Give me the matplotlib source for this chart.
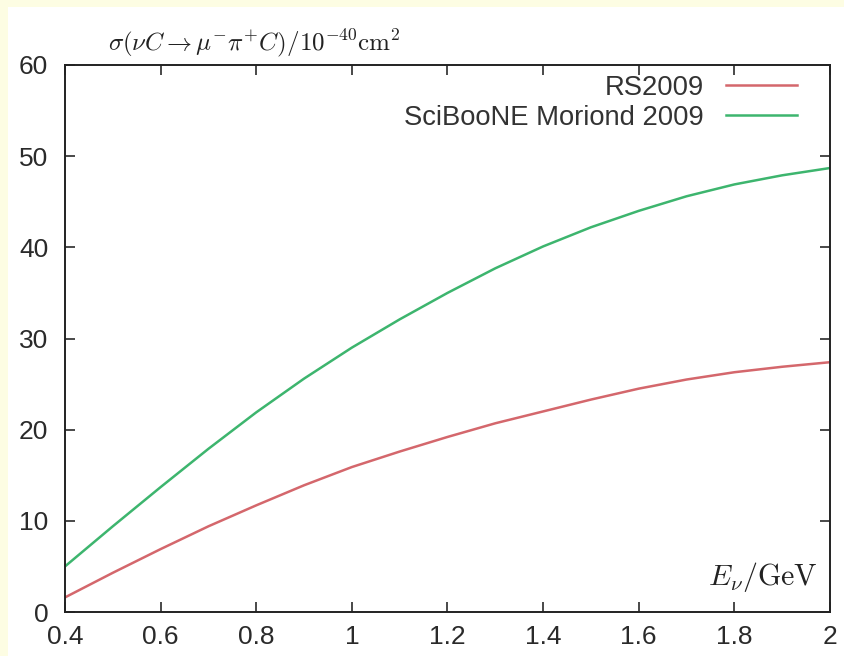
import numpy as np
import matplotlib
matplotlib.use('Agg')
import matplotlib.pyplot as plt
from matplotlib.patches import Rectangle

plt.rcParams['font.family'] = ['Liberation Sans', 'DejaVu Sans']
plt.rcParams['mathtext.fontset'] = 'cm'

# --- cross section vs neutrino energy (units of 1e-40 cm^2) ---
E_nu = [0.4, 0.5, 0.6, 0.7, 0.8, 0.9, 1.0, 1.1, 1.2,
        1.3, 1.4, 1.5, 1.6, 1.7, 1.8, 1.9, 2.0]
sigma_rs2009 = [1.6, 4.3, 6.9, 9.4, 11.7, 13.9, 15.9, 17.6, 19.2,
                20.7, 22.0, 23.3, 24.5, 25.5, 26.3, 26.9, 27.4]
sigma_sciboone = [5.0, 9.4, 13.7, 17.9, 21.9, 25.6, 29.0, 32.1, 35.0,
                  37.7, 40.1, 42.2, 44.0, 45.6, 46.9, 47.9, 48.7]

xticks = [0.4, 0.6, 0.8, 1.0, 1.2, 1.4, 1.6, 1.8, 2.0]
xticklabels = ['0.4', '0.6', '0.8', '1', '1.2', '1.4', '1.6', '1.8', '2']
yticks = [0, 10, 20, 30, 40, 50, 60]

fig = plt.figure(figsize=(8.45, 6.56), dpi=100)
fig.patch.set_facecolor('white')

# pale yellow frame strips along top and left edge
fig.patches.append(Rectangle((0, 0), 8 / 845, 1, transform=fig.transFigure,
                             facecolor='#fdfde3', edgecolor='none', zorder=0))
fig.patches.append(Rectangle((0, 1 - 7 / 656), 1, 7 / 656, transform=fig.transFigure,
                             facecolor='#fdfde3', edgecolor='none', zorder=0))

ax = fig.add_axes([65 / 845, 44 / 656, 765 / 845, 547 / 656])
ax.plot(E_nu, sigma_rs2009, color='#d4676c', lw=1.8, label='RS2009')
ax.plot(E_nu, sigma_sciboone, color='#3db56e', lw=1.8, label='SciBooNE Moriond 2009')

ax.set_xlim(0.4, 2.0)
ax.set_ylim(0, 60)
ax.set_xticks(xticks)
ax.set_xticklabels(xticklabels)
ax.set_yticks(yticks)
ax.tick_params(direction='in', length=7, width=1.2, top=True, right=True,
               labelsize=19, colors='#2a2a2a')
ax.tick_params(axis='x', pad=9)
ax.tick_params(axis='y', pad=12)
for sp in ax.spines.values():
    sp.set_linewidth(1.4)
    sp.set_color('#222222')

leg = ax.legend(loc='upper right', bbox_to_anchor=(0.978, 1.012), frameon=False,
                markerfirst=False, fontsize=19.7, handlelength=2.6,
                handletextpad=0.8, labelspacing=0.15, borderaxespad=0.2)
for t in leg.get_texts():
    t.set_color('#333333')

ax.text(0.984, 0.05, r'$E_\nu/\mathrm{GeV}$', transform=ax.transAxes,
        ha='right', va='baseline', fontsize=21.5, color='#222222')

fig.text(108 / 845, 1 - 50 / 656,
         r'$\sigma(\nu C \rightarrow \mu^{-}\pi^{+}C)/10^{-40}\mathrm{cm}^2$',
         ha='left', va='baseline', fontsize=18, color='#222222')

fig.savefig('out.png', dpi=100, facecolor=fig.get_facecolor())
